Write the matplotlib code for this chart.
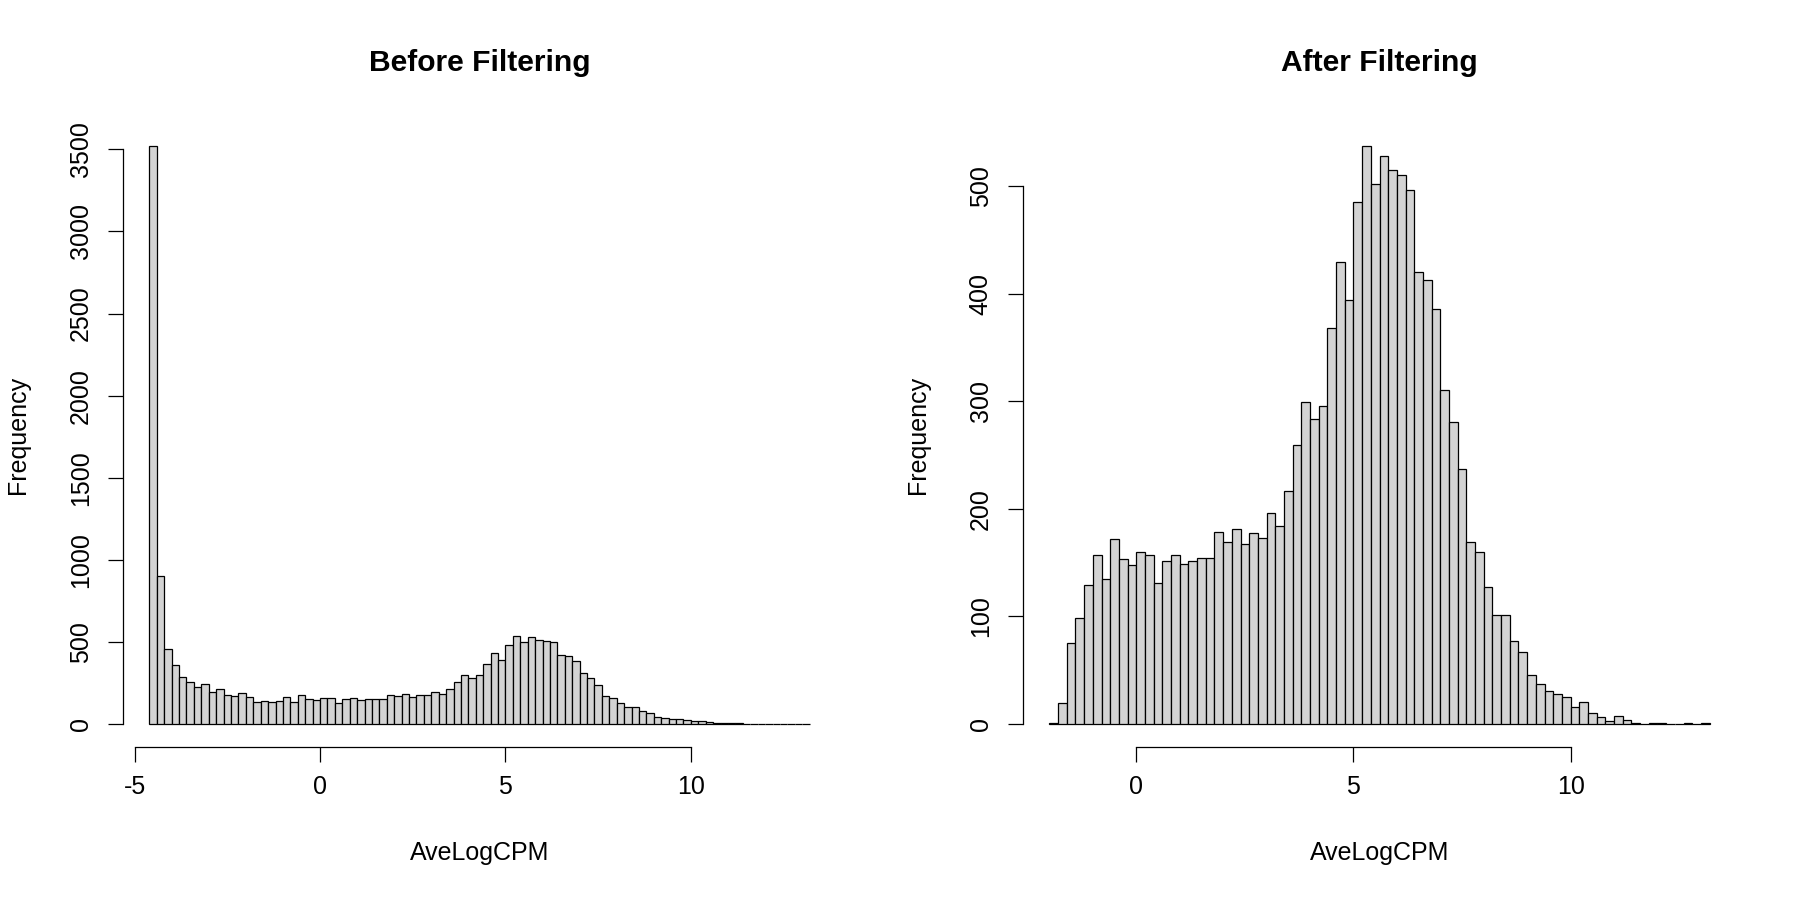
import numpy as np
import matplotlib
matplotlib.use("Agg")
import matplotlib.pyplot as plt

plt.rcParams["font.family"] = ["Liberation Sans", "DejaVu Sans"]
plt.rcParams["font.size"] = 18

# histogram counts, bins of width 0.2
bin_width = 0.2
before_start = -4.6
before_counts = [3520, 899, 459, 357, 286, 256, 225, 244, 193, 213,
                 179, 170, 189, 164, 132, 142, 134, 142, 164, 136,
                 177, 152, 148, 158, 158, 130, 150, 156, 148, 152,
                 152, 154, 177, 168, 183, 164, 177, 175, 197, 185,
                 215, 256, 298, 278, 296, 365, 430, 390, 483, 536,
                 500, 528, 514, 507, 497, 420, 413, 386, 310, 281,
                 235, 169, 160, 127, 101, 101, 77, 67, 45, 37,
                 31, 28, 25, 16, 20, 10, 6, 3, 7, 4,
                 1, 0, 1, 1, 0, 0, 1, 0, 1]

after_start = -2.0
after_counts = [1, 19, 75, 98, 129, 157, 135, 172, 153, 148,
                160, 157, 131, 151, 157, 149, 151, 154, 154, 178,
                169, 181, 167, 177, 173, 196, 184, 216, 259, 299,
                283, 295, 368, 429, 394, 485, 537, 502, 528, 515,
                510, 496, 420, 413, 386, 310, 281, 237, 169, 160,
                127, 101, 101, 77, 67, 45, 37, 31, 28, 25,
                16, 20, 10, 6, 3, 7, 4, 1, 0, 1,
                1, 0, 0, 1, 0, 1]

titles = ["Before Filtering", "After Filtering"]
before_xticks = [-5, 0, 5, 10]
after_xticks = [0, 5, 10]
before_yticks = [0, 500, 1000, 1500, 2000, 2500, 3000, 3500]
after_yticks = [0, 100, 200, 300, 400, 500]

fig = plt.figure(figsize=(18, 9), dpi=100)
ax1 = fig.add_axes([123/1800, 153/900, 713/1800, 624/900])
ax2 = fig.add_axes([1023/1800, 153/900, 713/1800, 624/900])

def draw_hist(ax, start, counts, title, xticks, yticks):
    edges = start + bin_width*np.arange(len(counts) + 1)
    ax.bar(edges[:-1], counts, width=bin_width, align="edge",
           color="#d3d3d3", edgecolor="black", linewidth=0.9)
    lo, hi = edges[0], edges[-1]
    pad = 0.04*(hi - lo)
    ax.set_xlim(lo - pad, hi + pad)
    ymax = max(counts)
    ax.set_ylim(-0.04*ymax, 1.04*ymax)
    for s in ["top", "right"]:
        ax.spines[s].set_visible(False)
    for s in ["left", "bottom"]:
        ax.spines[s].set_linewidth(0.9)
    ax.spines["bottom"].set_bounds(xticks[0], xticks[-1])
    ax.spines["left"].set_bounds(yticks[0], yticks[-1])
    ax.set_xticks(xticks)
    ax.set_yticks(yticks)
    ax.set_xticklabels([str(t) for t in xticks])
    ax.set_yticklabels([str(t) for t in yticks])
    ax.tick_params(length=10.8, width=0.9, labelsize=18, pad=9)
    ax.tick_params(axis="y", labelrotation=90, pad=11)
    for lab in ax.get_yticklabels():
        lab.set_va("center")
    ax.text(0.5, 1 + 60/624, title, transform=ax.transAxes, ha="center",
            va="center", fontsize=21.6, fontweight="bold")
    ax.set_xlabel("AveLogCPM", fontsize=18)
    ax.set_ylabel("Frequency", fontsize=18)
    ax.xaxis.set_label_coords(0.5, -106/624)
    ax.xaxis.label.set_va("center")
    ax.yaxis.set_label_coords(-105/713, 0.5)
    ax.yaxis.label.set_va("center")

draw_hist(ax1, before_start, before_counts, titles[0], before_xticks, before_yticks)
draw_hist(ax2, after_start, after_counts, titles[1], after_xticks, after_yticks)

fig.savefig("out.png", dpi=100)
